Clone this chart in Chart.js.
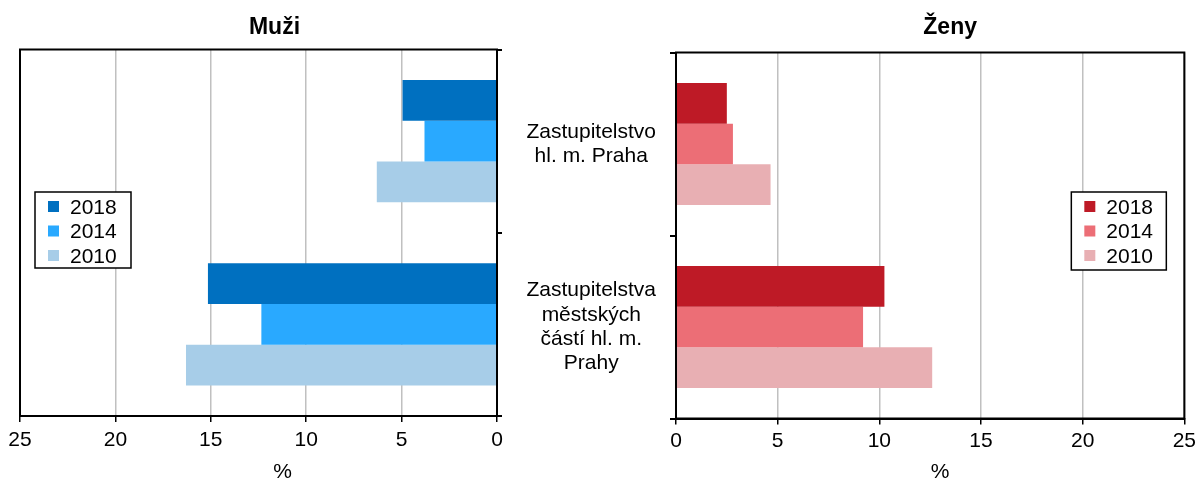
<!DOCTYPE html>
<html>
<head>
<meta charset="utf-8">
<script src="https://cdn.jsdelivr.net/npm/chart.js@4"></script>
<style>
  body { margin: 0; background: #fff; }
  #wrap { position: relative; width: 1200px; height: 479px; }
  .box { position: absolute; top: 0; height: 479px; }
</style>
</head>
<body>
<div id="wrap">
  <div class="box" style="left:0;width:520px"><canvas id="muzi"></canvas></div>
  <div class="box" style="left:520px;width:680px"><canvas id="zeny"></canvas></div>
</div>
<script>
const categories = [["Zastupitelstvo", "hl. m. Praha"], ["Zastupitelstva", "městských", "částí hl. m.", "Prahy"]];
const years = ['2018', '2014', '2010'];
const muzi2018 = [4.95, 15.15];
const muzi2014 = [3.8, 12.35];
const muzi2010 = [6.3, 16.3];
const zeny2018 = [2.5, 10.25];
const zeny2014 = [2.8, 9.2];
const zeny2010 = [4.65, 12.6];
const blues = ['#0070C0', '#29A9FF', '#A7CDE8'];
const reds = ['#BE1A26', '#EC6E76', '#E8AFB3'];

const FONT = "'Liberation Sans', Arial, sans-serif";
Chart.defaults.font.family = FONT;
Chart.defaults.font.size = 21;
Chart.defaults.color = '#000';

// black frame round the plot area
const frame = {
  id: 'frame',
  afterDatasetsDraw(chart) {
    const a = chart.chartArea, ctx = chart.ctx;
    ctx.save();
    ctx.strokeStyle = '#000';
    ctx.lineWidth = 2;
    ctx.strokeRect(a.left, a.top, a.right - a.left, a.bottom - a.top);
    ctx.restore();
  }
};

// legend box inside plot area
const legendBox = {
  id: 'legendBox',
  afterDraw(chart, args, o) {
    const a = chart.chartArea, ctx = chart.ctx;
    const x = o.right ? a.right - o.dx - o.w : a.left + o.dx;
    const y = o.y;
    ctx.save();
    ctx.fillStyle = '#fff';
    ctx.fillRect(x, y, o.w, o.h);
    ctx.strokeStyle = '#000';
    ctx.lineWidth = 1.5;
    ctx.strokeRect(x, y, o.w, o.h);
    ctx.font = '21px ' + FONT;
    ctx.textBaseline = 'middle';
    chart.data.datasets.forEach((ds, i) => {
      const cy = y + 15 + i * 24.5;
      ctx.fillStyle = ds.backgroundColor;
      ctx.fillRect(x + 13, cy - 6, 11, 11);
      ctx.fillStyle = '#000';
      ctx.fillText(ds.label, x + 35, cy + 1);
    });
    ctx.restore();
  }
};

// chart title and axis unit
const texts = {
  id: 'texts',
  afterDraw(chart, args, o) {
    const a = chart.chartArea, ctx = chart.ctx;
    const cx = (a.left + a.right) / 2;
    ctx.save();
    ctx.fillStyle = '#000';
    ctx.textAlign = 'center';
    ctx.textBaseline = 'middle';
    ctx.font = 'bold 23px ' + FONT;
    ctx.fillText(o.title, cx + o.titleDx, 28);
    ctx.font = '21px ' + FONT;
    ctx.fillText('%', cx + o.unitDx, 472);
    ctx.restore();
  }
};

function makeSets(vals, colors) {
  return vals.map((v, i) => ({
    label: years[i],
    data: v,
    backgroundColor: colors[i],
    borderWidth: 0,
    categoryPercentage: 0.666,
    barPercentage: 1
  }));
}

function xScale(reverse, h, pad) {
  return {
    min: 0, max: 25, reverse: reverse,
    ticks: { stepSize: 5, padding: pad, maxRotation: 0 },
    grid: { color: '#C0C0C0', lineWidth: 1.5, tickColor: '#000', tickLength: 6 },
    border: { color: '#000', width: 2 },
    afterFit: s => { s.height = h; }
  };
}

new Chart(document.getElementById('muzi'), {
  type: 'bar',
  data: { labels: categories, datasets: makeSets([muzi2018, muzi2014, muzi2010], blues) },
  options: {
    indexAxis: 'y',
    responsive: true,
    maintainAspectRatio: false,
    animation: false,
    layout: { padding: { left: 20, top: 49.5, right: 0, bottom: 0 } },
    scales: {
      x: xScale(true, 63, 6),
      y: {
        position: 'right',
        ticks: { display: false },
        grid: { offset: true, drawOnChartArea: false, tickColor: '#000', tickLength: 5, lineWidth: 2 },
        border: { color: '#000', width: 2 },
        afterFit: s => { s.width = 23; s.paddingTop = 0; s.paddingBottom = 0; }
      }
    },
    plugins: {
      legend: { display: false },
      tooltip: { enabled: false },
      legendBox: { dx: 15, y: 192, w: 96, h: 76, right: false },
      texts: { title: 'Muži', titleDx: 16, unitDx: 24 }
    }
  },
  plugins: [frame, legendBox, texts]
});

new Chart(document.getElementById('zeny'), {
  type: 'bar',
  data: { labels: categories, datasets: makeSets([zeny2018, zeny2014, zeny2010], reds) },
  options: {
    indexAxis: 'y',
    responsive: true,
    maintainAspectRatio: false,
    animation: false,
    layout: { padding: { left: 0, top: 52.5, right: 15, bottom: 0 } },
    scales: {
      x: xScale(false, 60.5, 4),
      y: {
        position: 'left',
        ticks: { crossAlign: 'center', padding: 14, font: { size: 21, lineHeight: 1.16 } },
        grid: { offset: true, drawOnChartArea: false, tickColor: '#000', tickLength: 6, lineWidth: 2 },
        border: { color: '#000', width: 2 },
        afterFit: s => { s.width = 156; s.paddingTop = 0; s.paddingBottom = 0; }
      }
    },
    plugins: {
      legend: { display: false },
      tooltip: { enabled: false },
      legendBox: { dx: 18, y: 192, w: 95, h: 78, right: true },
      texts: { title: 'Ženy', titleDx: 20, unitDx: 10 }
    }
  },
  plugins: [frame, legendBox, texts]
});
</script>
</body>
</html>
